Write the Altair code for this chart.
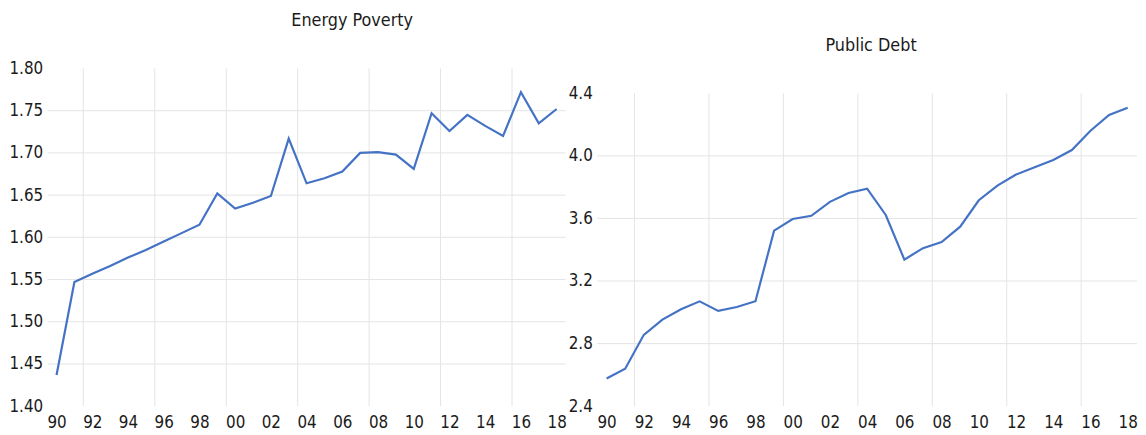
import altair as alt
import pandas as pd

years = [1990, 1991, 1992, 1993, 1994, 1995, 1996, 1997, 1998, 1999,
         2000, 2001, 2002, 2003, 2004, 2005, 2006, 2007, 2008, 2009,
         2010, 2011, 2012, 2013, 2014, 2015, 2016, 2017, 2018]

energy_poverty = [1.437, 1.547, 1.557, 1.566, 1.576, 1.585, 1.595, 1.605, 1.615, 1.652,
                  1.634, 1.641, 1.649, 1.717, 1.664, 1.670, 1.678, 1.700, 1.701, 1.698,
                  1.681, 1.747, 1.726, 1.745, 1.732, 1.720, 1.772, 1.735, 1.752]

public_debt = [2.577, 2.639, 2.856, 2.953, 3.020, 3.070, 3.009, 3.034, 3.071, 3.522,
               3.596, 3.617, 3.706, 3.763, 3.790, 3.622, 3.337, 3.410, 3.449, 3.547,
               3.716, 3.810, 3.880, 3.927, 3.974, 4.037, 4.160, 4.261, 4.307]

x_tick_years = [1990, 1992, 1994, 1996, 1998, 2000, 2002, 2004, 2006, 2008,
                2010, 2012, 2014, 2016, 2018]
x_grid_years = [1991.5, 1995.5, 1999.5, 2003.5, 2007.5, 2011.5, 2015.5]

ep_ticks = [1.40, 1.45, 1.50, 1.55, 1.60, 1.65, 1.70, 1.75, 1.80]
ep_grid = [1.45, 1.50, 1.55, 1.60, 1.65, 1.70, 1.75]
pd_ticks = [2.4, 2.8, 3.2, 3.6, 4.0, 4.4]
pd_grid = [2.8, 3.2, 3.6, 4.0]

FONT = "Liberation Sans Narrow, DejaVu Sans Condensed, Roboto Condensed, Roboto"
LINE = "#4472C4"
GRID = "#E4E4E4"
TXT = "#1a1a1a"
FS = 17

x_dom = [1989.5, 2018.5]


def panel(values, ticks, grid_vals, ydom, ymin, ymax, fmt, title, width, height, tdx, toffset):
    df = pd.DataFrame({"year": years, "value": values})
    xscale = alt.Scale(domain=x_dom, nice=False, zero=False)
    yscale = alt.Scale(domain=ydom, nice=False, zero=False)
    xaxis = alt.Axis(values=x_tick_years, format="d",
                     labelExpr="substring(datum.label, 2, 4)",
                     title=None, grid=False, domain=False, ticks=False,
                     labelPadding=9, labelFlush=False, labelOverlap=False,
                     labelFont=FONT, labelFontSize=FS, labelColor=TXT)
    yaxis = alt.Axis(values=ticks, format=fmt, title=None, grid=False,
                     domain=False, ticks=False, labelPadding=5,
                     labelOverlap=False, labelFlush=False,
                     labelFont=FONT, labelFontSize=FS, labelColor=TXT)
    hgrid = alt.Chart(pd.DataFrame({"g": grid_vals})).mark_rule(
        color=GRID, strokeWidth=1).encode(
        y=alt.Y("g:Q", scale=yscale, axis=yaxis, title=None))
    vgrid = alt.Chart(pd.DataFrame({"gx": x_grid_years})).mark_rule(
        color=GRID, strokeWidth=1).encode(
        x=alt.X("gx:Q", scale=xscale, axis=xaxis, title=None),
        y=alt.datum(ymin, scale=yscale, axis=yaxis, title=None), y2=alt.datum(ymax))
    line = alt.Chart(df).mark_line(color=LINE, strokeWidth=2.2).encode(
        x=alt.X("year:Q", scale=xscale, axis=xaxis, title=None),
        y=alt.Y("value:Q", scale=yscale, axis=yaxis, title=None))
    return alt.layer(hgrid, vgrid, line).properties(
        width=width, height=height,
        title=alt.TitleParams(title, anchor="middle", dx=tdx, offset=toffset,
                              font=FONT, fontSize=18, fontWeight="normal", color=TXT))


left = panel(energy_poverty, ep_ticks, ep_grid, [1.40, 1.80], 1.40, 1.80, ".2f",
             "Energy Poverty", 523, 341, 46, 30)
right = panel(public_debt, pd_ticks, pd_grid, [2.4, 4.4 + 25 / 158], 2.4, 4.4, ".1f",
              "Public Debt", 545, 341, 4, 14)

chart = alt.hconcat(left, right, spacing=1).properties(
    padding={"left": 0, "top": 2, "right": 0, "bottom": 0},
    background="white"
).configure_view(stroke=None)

chart.save("out.html", embed_options={"renderer": "svg", "actions": False})
